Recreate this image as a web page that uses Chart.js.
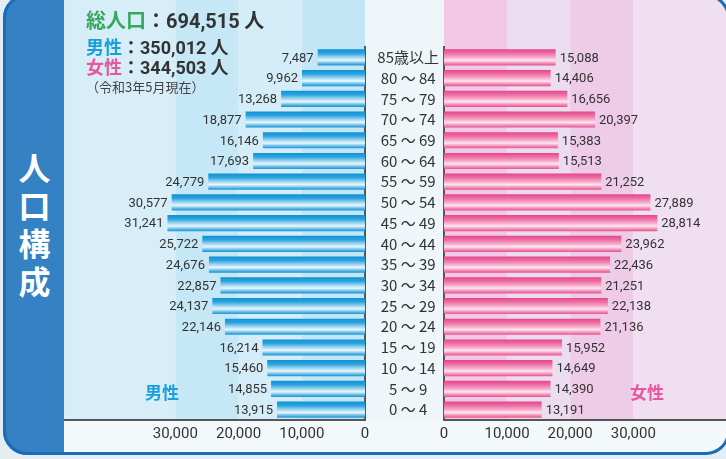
<!DOCTYPE html>
<html lang="ja">
<head>
<meta charset="utf-8">
<title>人口構成</title>
<script src="https://cdn.jsdelivr.net/npm/chart.js@4.4.1/dist/chart.umd.min.js"></script>
<style>
  html, body { margin: 0; padding: 0; }
  body {
    width: 726px; height: 459px; position: relative; overflow: hidden;
    background: #e4edf2;
    font-family: "Noto Sans CJK JP", Roboto, sans-serif;
  }
  /* panel: clipped container, coordinates inside are offset by (3, -6) */
  #panel {
    position: absolute; left: 3px; top: -6px; width: 727px; height: 461px;
    border-radius: 24px; overflow: hidden; background: #f3f8fb;
  }
  #panelBorder {
    position: absolute; left: 3px; top: -6px; width: 727px; height: 461px;
    box-sizing: border-box; border: 3px solid #1b6cb6; border-radius: 24px;
    pointer-events: none; z-index: 10;
  }
  #band { position: absolute; left: 0; top: 0; width: 61px; height: 100%; background: #3481c3; }
  #midCol { position: absolute; left: 362px; top: 0; width: 79px; height: 426px; background: #eef6fa; }
  .wrap { position: absolute; top: 6px; }
  #maleWrap { left: 61px; width: 309px; height: 456px; }
  #femaleWrap { left: 362px; width: 361px; height: 456px; }

  .txt { position: absolute; z-index: 5; white-space: nowrap; font-weight: bold; color: #333; }
  #vtitle {
    left: 17px; top: 147px; width: 35px; font-size: 32px; line-height: 38px;
    color: #fff; text-align: center; white-space: normal;
  }
  #total { left: 86px; top: 6px; font-size: 20px; line-height: 28px; }
  #maleTot { left: 86px; top: 34px; font-size: 18px; line-height: 24px; }
  #femaleTot { left: 86px; top: 54px; font-size: 18px; line-height: 24px; }
  #asof { left: 86px; top: 78px; font-size: 13px; line-height: 18px; font-weight: normal; color: #444; }
  .num { font-family: Roboto, sans-serif; }
  .g { color: #36a85c; }
  .b { color: #19a0dc; }
  .p { color: #e8579d; }
  #maleTag { left: 145px; top: 380px; font-size: 17px; line-height: 24px; color: #19a0dc; }
  #femaleTag { left: 630px; top: 380px; font-size: 17px; line-height: 24px; color: #e8579d; }
</style>
</head>
<body>
<div id="panel">
  <div id="band"></div>
  <div id="midCol"></div>
  <div class="wrap" id="maleWrap"><canvas id="maleChart" width="309" height="456"></canvas></div>
  <div class="wrap" id="femaleWrap"><canvas id="femaleChart" width="361" height="456"></canvas></div>
</div>
<div id="panelBorder"></div>

<div class="txt" id="vtitle">人口構成</div>
<div class="txt" id="total"><span class="g">総人口</span>：<span class="num">694,515</span> 人</div>
<div class="txt" id="maleTot"><span class="b">男性</span>：<span class="num">350,012</span> 人</div>
<div class="txt" id="femaleTot"><span class="p">女性</span>：<span class="num">344,503</span> 人</div>
<div class="txt" id="asof">（令和3年5月現在）</div>
<div class="txt" id="maleTag">男性</div>
<div class="txt" id="femaleTag">女性</div>

<script>
// age groups, top to bottom
const ageLabels = ['85歳以上', '80 ～ 84', '75 ～ 79', '70 ～ 74', '65 ～ 69', '60 ～ 64',
  '55 ～ 59', '50 ～ 54', '45 ～ 49', '40 ～ 44', '35 ～ 39', '30 ～ 34',
  '25 ～ 29', '20 ～ 24', '15 ～ 19', '10 ～ 14', '5 ～ 9', '0 ～ 4'];

const maleValues = [7487, 9962, 13268, 18877, 16146, 17693, 24779, 30577, 31241,
  25722, 24676, 22857, 24137, 22146, 16214, 15460, 14855, 13915];

const femaleValues = [15088, 14406, 16656, 20397, 15383, 15513, 21252, 27889, 28814,
  23962, 22436, 21251, 22138, 21136, 15952, 14649, 14390, 13191];

// tick labels shown under each side
const axisTicks = [0, 10000, 20000, 30000];

const BAR_PCT = 0.78;

// vertical gradient for each bar, based on the category scale
function barFill(stops) {
    return function(c) {
        const chart = c.chart;
        const yScale = chart.scales.y;
        if (!chart.chartArea || !yScale || c.dataIndex === undefined) return stops[0][1];
        const center = yScale.getPixelForValue(c.dataIndex);
        const half = yScale.height / ageLabels.length * BAR_PCT / 2;
        const g = chart.ctx.createLinearGradient(0, center - half, 0, center + half);
        stops.forEach(s => g.addColorStop(s[0], s[1]));
        return g;
    };
}

const blueStops = [[0, '#0f92d4'], [0.25, '#2ba3de'], [0.5, '#a0d7f1'], [0.68, '#eaf7fc'], [0.86, '#64bce8'], [1, '#1693d3']];
const pinkStops = [[0, '#e6458b'], [0.25, '#ed6ea5'], [0.5, '#f6aac9'], [0.68, '#fde7f1'], [0.86, '#f18db8'], [1, '#e6518e']];

// background bands every 10,000 on the tick scale
const stripes = {
    id: 'stripes',
    beforeDraw(chart, args, opts) {
        const {ctx, chartArea} = chart;
        const s = chart.scales[opts.scale];
        const edges = axisTicks.concat([s.max]);
        ctx.save();
        for (let i = 0; i < edges.length - 1; i++) {
            const a = s.getPixelForValue(edges[i]);
            const b = s.getPixelForValue(edges[i + 1]);
            ctx.fillStyle = opts.colors[i];
            ctx.fillRect(Math.min(a, b), 0, Math.abs(b - a), chartArea.bottom);
        }
        ctx.restore();
    }
};

// numbers at the end of each bar
const valueLabels = {
    id: 'valueLabels',
    afterDatasetsDraw(chart, args, opts) {
        const {ctx} = chart;
        const meta = chart.getDatasetMeta(0);
        const data = chart.data.datasets[0].data;
        ctx.save();
        ctx.font = '13px Roboto';
        ctx.fillStyle = '#333';
        ctx.textBaseline = 'middle';
        ctx.textAlign = opts.side === 'left' ? 'right' : 'left';
        meta.data.forEach((bar, i) => {
            const x = opts.side === 'left' ? bar.x - 4 : bar.x + 4;
            ctx.fillText(data[i].toLocaleString('en-US'), x, bar.y + 1);
        });
        ctx.restore();
    }
};

const tickFont = { family: 'Roboto', size: 15 };
const axisBorder = { display: true, color: '#555', width: 2 };
const noGrid = { display: false, drawTicks: false, tickLength: 0 };

// male side (bars grow to the left)
new Chart(document.getElementById('maleChart'), {
    type: 'bar',
    data: {
        labels: ageLabels,
        datasets: [{
            label: '男性',
            data: maleValues,
            backgroundColor: barFill(blueStops),
            borderWidth: 0,
            categoryPercentage: BAR_PCT,
            barPercentage: 1
        }]
    },
    plugins: [stripes, valueLabels],
    options: {
        responsive: false,
        animation: false,
        indexAxis: 'y',
        layout: { padding: { top: 47, right: 6, left: 0, bottom: 0 } },
        plugins: {
            legend: { display: false },
            tooltip: { enabled: false },
            stripes: { scale: 'x', colors: ['#c2e6f6', '#d4edf8', '#c5e7f6', '#d7eef9'] },
            valueLabels: { side: 'left' }
        },
        scales: {
            x: {
                reverse: true,
                min: 0,
                max: 47600,
                afterBuildTicks: s => { s.ticks = axisTicks.map(v => ({ value: v })); },
                afterFit: s => { s.height = 36; },
                ticks: { font: tickFont, color: '#333', padding: 5, maxRotation: 0, autoSkip: false },
                grid: noGrid,
                border: axisBorder
            },
            y: {
                position: 'right',
                afterFit: s => { s.width = 2; },
                ticks: { display: false },
                grid: noGrid,
                border: axisBorder
            }
        }
    }
});

// female side, age labels sit in its y axis
new Chart(document.getElementById('femaleChart'), {
    type: 'bar',
    data: {
        labels: ageLabels,
        datasets: [{
            label: '女性',
            data: femaleValues,
            xAxisID: 'x',
            backgroundColor: barFill(pinkStops),
            borderWidth: 0,
            categoryPercentage: BAR_PCT,
            barPercentage: 1
        }]
    },
    plugins: [stripes, valueLabels],
    options: {
        responsive: false,
        animation: false,
        indexAxis: 'y',
        layout: { padding: { top: 47, right: 0, left: 0, bottom: 0 } },
        plugins: {
            legend: { display: false },
            tooltip: { enabled: false },
            stripes: { scale: 'x2', colors: ['#f1c8e5', '#ecdcef', '#eecbe6', '#efdff0'] },
            valueLabels: { side: 'right' }
        },
        scales: {
            x: {
                display: false,
                min: 0,
                max: 38100
            },
            x2: {
                type: 'linear',
                axis: 'x',
                position: 'bottom',
                min: 0,
                max: 44700,
                afterBuildTicks: s => { s.ticks = axisTicks.map(v => ({ value: v })); },
                afterFit: s => { s.height = 36; },
                ticks: { font: tickFont, color: '#333', padding: 5, maxRotation: 0, autoSkip: false },
                grid: noGrid,
                border: axisBorder
            },
            y: {
                position: 'left',
                afterFit: s => { s.width = 79; },
                ticks: {
                    font: { family: '"Noto Sans CJK JP", sans-serif', size: 15 },
                    color: '#333',
                    crossAlign: 'center',
                    padding: 5,
                    autoSkip: false
                },
                grid: noGrid,
                border: axisBorder
            }
        }
    }
});
</script>
</body>
</html>
